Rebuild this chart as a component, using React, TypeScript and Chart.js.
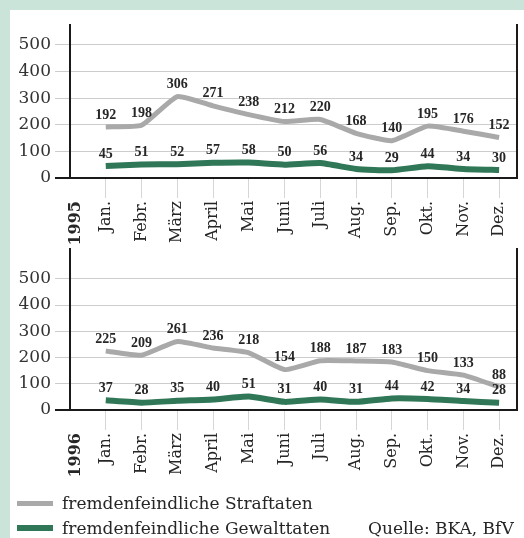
import React, { useEffect, useRef } from "react";
import { Chart, registerables } from "chart.js";

Chart.register(...registerables);

const months = ["Jan.", "Febr.", "März", "April", "Mai", "Juni", "Juli", "Aug.", "Sep.", "Okt.", "Nov.", "Dez."];
const straftaten1995 = [192, 198, 306, 271, 238, 212, 220, 168, 140, 195, 176, 152];
const gewalttaten1995 = [45, 51, 52, 57, 58, 50, 56, 34, 29, 44, 34, 30];
const straftaten1996 = [225, 209, 261, 236, 218, 154, 188, 187, 183, 150, 133, 88];
const gewalttaten1996 = [37, 28, 35, 40, 51, 31, 40, 31, 44, 42, 34, 28];
const yTickValues = [0, 100, 200, 300, 400, 500];
const legendLabels = ["fremdenfeindliche Straftaten", "fremdenfeindliche Gewalttaten"];
const sourceText = "Quelle: BKA, BfV";

const GREY = "#a9a9a9";
const GREEN = "#2f7757";
const INK = "#262626";

const valueLabels = {
  id: "valueLabels",
  afterDatasetsDraw(chart: any) {
    const ctx = chart.ctx;
    ctx.save();
    ctx.font = "bold 14px 'Liberation Serif'";
    ctx.fillStyle = INK;
    ctx.textAlign = "center";
    ctx.textBaseline = "middle";
    chart.data.datasets.forEach((ds: any, di: number) => {
      const meta = chart.getDatasetMeta(di);
      meta.data.forEach((pt: any, i: number) => {
        ctx.fillText(String(ds.data[i].y), pt.x, pt.y - 12);
      });
    });
    ctx.restore();
  },
};

function makeChart(canvas: HTMLCanvasElement, year: string, s: number[], g: number[], yMax: number, padTop: number, xHeight: number) {
  const labels = [year, ...months];
  return new Chart(canvas, {
    type: "line",
    data: {
      datasets: [
        {
          label: legendLabels[0],
          data: s.map((v, i) => ({ x: i + 1, y: v })),
          borderColor: GREY,
          borderWidth: 5,
          pointRadius: 0,
          tension: 0.15,
          borderJoinStyle: "round",
          borderCapStyle: "butt",
          yAxisID: "y",
        },
        {
          label: legendLabels[1],
          data: g.map((v, i) => ({ x: i + 1, y: v })),
          borderColor: GREEN,
          borderWidth: 6,
          pointRadius: 0,
          tension: 0.15,
          borderJoinStyle: "round",
          borderCapStyle: "butt",
          yAxisID: "y",
        },
      ],
    },
    options: {
      responsive: false,
      animation: false,
      devicePixelRatio: 1,
      layout: { padding: { top: padTop, right: 7, left: 0, bottom: 0 } },
      plugins: { legend: { display: false }, tooltip: { enabled: false } },
      scales: {
        x: {
          type: "linear",
          min: 0,
          max: 12.5,
          afterBuildTicks: (sc: any) => {
            sc.ticks = labels.map((_, i) => ({ value: i === 0 ? 0.15 : i }));
          },
          afterFit: (sc: any) => {
            sc.height = xHeight;
          },
          ticks: {
            autoSkip: false,
            minRotation: 90,
            maxRotation: 90,
            padding: 3,
            color: INK,
            font: (c: any) =>
              c.index === 0
                ? { family: "'DejaVu Serif'", size: 16, weight: "bold" }
                : { family: "'DejaVu Serif'", size: 16, weight: "normal" },
            callback: (v: any) => labels[Math.round(Number(v))] ?? "",
          },
          grid: {
            drawOnChartArea: false,
            drawTicks: true,
            tickLength: 20,
            color: (c: any) => (c.index === 0 ? "rgba(0,0,0,0)" : "#d6d6d6"),
            lineWidth: 1,
          },
          border: { display: true, color: "#1a1a1a", width: 2 },
        },
        y: {
          type: "linear",
          min: 0,
          max: yMax,
          afterBuildTicks: (sc: any) => {
            sc.ticks = yTickValues.map((v) => ({ value: v }));
          },
          afterFit: (sc: any) => {
            sc.width = 70;
          },
          ticks: {
            padding: 4,
            color: "#333",
            font: { family: "'DejaVu Serif'", size: 17 },
          },
          grid: {
            tickLength: 15,
            color: (c: any) => (c.tick && c.tick.value === 0 ? "#1a1a1a" : "#cdcdcd"),
            lineWidth: (c: any) => (c.tick && c.tick.value === 0 ? 2 : 1),
          },
          border: { display: true, color: "#1a1a1a", width: 2 },
        },
        y2: {
          type: "linear",
          position: "right",
          display: true,
          afterFit: (sc: any) => {
            sc.width = 0;
          },
          ticks: { display: false },
          grid: { drawOnChartArea: false, drawTicks: false },
          border: { display: true, color: "#1a1a1a", width: 2 },
        },
      },
    },
    plugins: [valueLabels],
  } as any);
}

export default function App() {
  const ref1 = useRef<HTMLCanvasElement>(null);
  const ref2 = useRef<HTMLCanvasElement>(null);

  useEffect(() => {
    document.body.style.margin = "0";
    const c1 = makeChart(ref1.current!, "1995", straftaten1995, gewalttaten1995, 575, 25, 77);
    const c2 = makeChart(ref2.current!, "1996", straftaten1996, gewalttaten1996, 613, 13, 75);
    return () => {
      c1.destroy();
      c2.destroy();
    };
  }, []);

  const textStyle: React.CSSProperties = {
    position: "absolute",
    fontFamily: "'DejaVu Serif'",
    fontSize: 17,
    color: INK,
    lineHeight: "20px",
    whiteSpace: "nowrap",
  };

  return (
    <div style={{ position: "relative", width: 524, height: 538, background: "#cbe4d9", overflow: "hidden" }}>
      <div style={{ position: "absolute", left: 10, top: 10, right: 0, bottom: 0, background: "#ffffff" }} />
      <canvas ref={ref1} width={524} height={255} style={{ position: "absolute", left: 0, top: 0, width: 524, height: 255 }} />
      <canvas ref={ref2} width={524} height={250} style={{ position: "absolute", left: 0, top: 235, width: 524, height: 250 }} />
      <div style={{ position: "absolute", left: 17, top: 501, width: 36, height: 5, background: GREY }} />
      <div style={{ ...textStyle, left: 62, top: 493 }}>{legendLabels[0]}</div>
      <div style={{ position: "absolute", left: 17, top: 525, width: 36, height: 6, background: GREEN }} />
      <div style={{ ...textStyle, left: 62, top: 518 }}>{legendLabels[1]}</div>
      <div style={{ ...textStyle, left: 368, top: 518 }}>{sourceText}</div>
    </div>
  );
}
